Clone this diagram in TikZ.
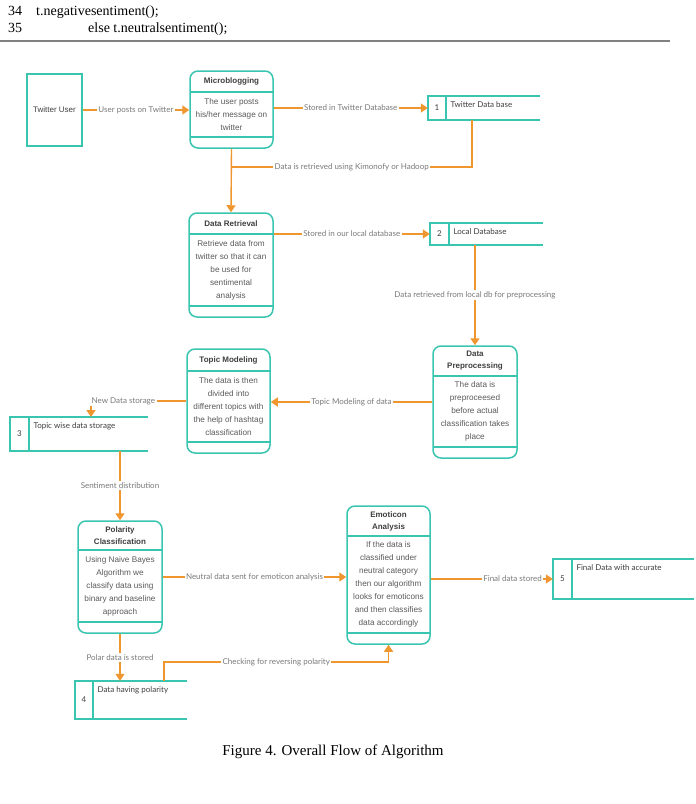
\documentclass[tikz,border=0pt]{standalone}
\usepackage{fontspec}
\setmainfont{Liberation Serif}
\newfontfamily\lato{Lato}
\newfontfamily\arial{Liberation Sans}
\usetikzlibrary{arrows.meta}
\definecolor{dfdteal}{HTML}{3AC5B0}
\definecolor{dfdorange}{HTML}{F0962E}
\definecolor{lblgray}{HTML}{7A7A7A}
\definecolor{txtdark}{HTML}{3E3E3E}
\definecolor{txtbody}{HTML}{5A5A5A}

% process box: name, left, top, right, bottom, header line, footer line, title, body
\newcommand{\procbox}[9]{%
  \node[proc, minimum width={#4-#2}, minimum height={#5-#3}] (#1) at ({(#2+#4)/2},{(#3+#5)/2}) {};
  \draw[tealline] (#2,#6) -- (#4,#6);
  \draw[tealline] (#2,#7) -- (#4,#7);
  \node[ttl] (#1-t) at ({(#2+#4)/2},{(#3+#6)/2}) {#8};
  \node[bodytxt] (#1-b) at ({(#2+#4)/2},{(#6+#7)/2}) {#9};
}
% data store: name, left, top, right, bottom, divider, number, text
\newcommand{\datastore}[8]{%
  \node[store, minimum width={#4-#2}, minimum height={#5-#3}] (#1) at ({(#2+#4)/2},{(#3+#5)/2}) {};
  \draw[tealline] (#1.north east) -- (#1.north west) -- (#1.south west) -- (#1.south east);
  \draw[tealline] (#6,#3) -- (#6,#5);
  \node[num] (#1-n) at ({(#2+#6)/2},{(#3+#5)/2}) {#7};
  \node[storetxt, anchor=west] (#1-t) at ({#6+1},{#3+9}) {#8};
}

\begin{document}
\begin{tikzpicture}[x=1pt, y=-1pt,
    tealline/.style={draw=dfdteal, line width=1.5pt},
    proc/.style={draw=dfdteal, line width=1.5pt, rounded corners=8pt, inner sep=0pt},
    store/.style={inner sep=0pt},
    ttl/.style={font=\arial\bfseries\fontsize{8}{12}\selectfont, text=txtdark, align=center},
    bodytxt/.style={font=\arial\fontsize{8.2}{13}\selectfont, text=txtbody, align=center},
    num/.style={font=\lato\fontsize{8}{10}\selectfont, text=txtdark},
    storetxt/.style={font=\lato\fontsize{8}{10}\selectfont, text=txtdark},
    flow/.style={draw=dfdorange, line width=1.4pt, -{Triangle[length=7pt,width=9pt]}},
    flowline/.style={draw=dfdorange, line width=1.4pt},
    lbl/.style={fill=white, text=lblgray, font=\lato\fontsize{8}{10}\selectfont, inner sep=1.5pt},
    codetxt/.style={font=\fontsize{14}{16}\selectfont, anchor=base west, inner sep=0pt},
    captxt/.style={font=\fontsize{15}{17}\selectfont}]
  \useasboundingbox (0,0) rectangle (696,804);

  % listing lines above the figure
  \node[codetxt] (l34) at (8,15) {34};
  \node[codetxt] (c34) at (36,15) {t.negativesentiment();};
  \node[codetxt] (l35) at (8,32) {35};
  \node[codetxt] (c35) at (88,32) {else t.neutralsentiment();};
  \draw[gray, line width=1.2pt] (0,41) -- (670,41);

  % external entity
  \node[draw=dfdteal, line width=1.5pt, minimum width=55, minimum height=72, inner sep=0pt,
        font=\arial\fontsize{8}{10}\selectfont, text=txtdark] (tu) at (54.5,110) {Twitter User};

  % processes
  \procbox{micro}{190}{71}{273}{148}{92}{137}{Microblogging}{The user posts\\his/her message on\\twitter}
  \procbox{dr}{189}{213}{273}{317}{234}{306}{Data Retrieval}{Retrieve data from\\twitter so that it can\\be used for\\sentimental\\analysis}
  \procbox{tm}{187}{349}{270}{453}{371}{442}{Topic Modeling}{The data is then\\divided into\\different topics with\\the help of hashtag\\classification}
  \procbox{dp}{433}{346}{517}{458}{376}{447}{Data\\Preprocessing}{The data is\\preproceesed\\before actual\\classification takes\\place}
  \procbox{pc}{78}{521}{162}{633}{550}{622}{Polarity\\Classification}{Using Naive Bayes\\Algorithm we\\classify data using\\binary and baseline\\approach}
  \procbox{ea}{347}{506}{430}{644}{536}{633}{Emoticon\\Analysis}{If the data is\\classified under\\neutral category\\then our algorithm\\looks for emoticons\\and then classifies\\data accordingly}

  % data stores
  \datastore{s1}{428}{96}{540}{120}{446}{1}{Twitter Data base}
  \datastore{s2}{430}{223}{543}{245}{449}{2}{Local Database}
  \datastore{s3}{10}{417}{148}{451}{29}{3}{Topic wise data storage}
  \datastore{s4}{75}{681}{187}{719}{93}{4}{Data having polarity}
  \datastore{s5}{553}{559}{694}{599}{572}{5}{Final Data with accurate}

  % flows
  \draw[flow] (tu.east) -- node[lbl] {User posts on Twitter} (micro.west |- tu.east);
  \draw[flow] (micro.east |- s1.west) -- node[lbl] {Stored in Twitter Database} (s1.west);
  \draw[flow] (micro.south) -- (dr.north);
  \coordinate (k1) at (472,167);
  \draw[flowline] (s1.south -| k1) -- (k1) -- node[lbl] {Data is retrieved using Kimonofy or Hadoop} (micro.south |- k1);
  \draw[flow] (dr.east |- s2.west) -- node[lbl] {Stored in our local database} (s2.west);
  \draw[flow] (dp.north |- s2.south) -- node[lbl] {Data retrieved from local db for preprocessing} (dp.north);
  \draw[flow] (dp.west) -- node[lbl] {Topic Modeling of data} (tm.east |- dp.west);
  \coordinate (k3) at (91,417);
  \draw[flow] (tm.west) -| node[lbl, pos=0.33] {New Data storage} (k3);
  \draw[flow] (pc.north |- s3.south) -- node[lbl] {Sentiment distribution} (pc.north);
  \draw[flow] (pc.east) -- node[lbl] {Neutral data sent for emoticon analysis} (ea.west |- pc.east);
  \draw[flow] (ea.east |- s5.west) -- node[lbl, pos=0.67] {Final data stored} (s5.west);
  \draw[flow] (pc.south) -- node[lbl] {Polar data is stored} (pc.south |- s4.north);
  \coordinate (k4) at (164,681);
  \draw[flow] (k4) -- ++(0,-19) -| node[lbl, pos=0.25] {Checking for reversing polarity} (ea.south);

  % caption
  \node[captxt] (cap) at (333,752) {Figure 4. Overall Flow of Algorithm};
\end{tikzpicture}
\end{document}
